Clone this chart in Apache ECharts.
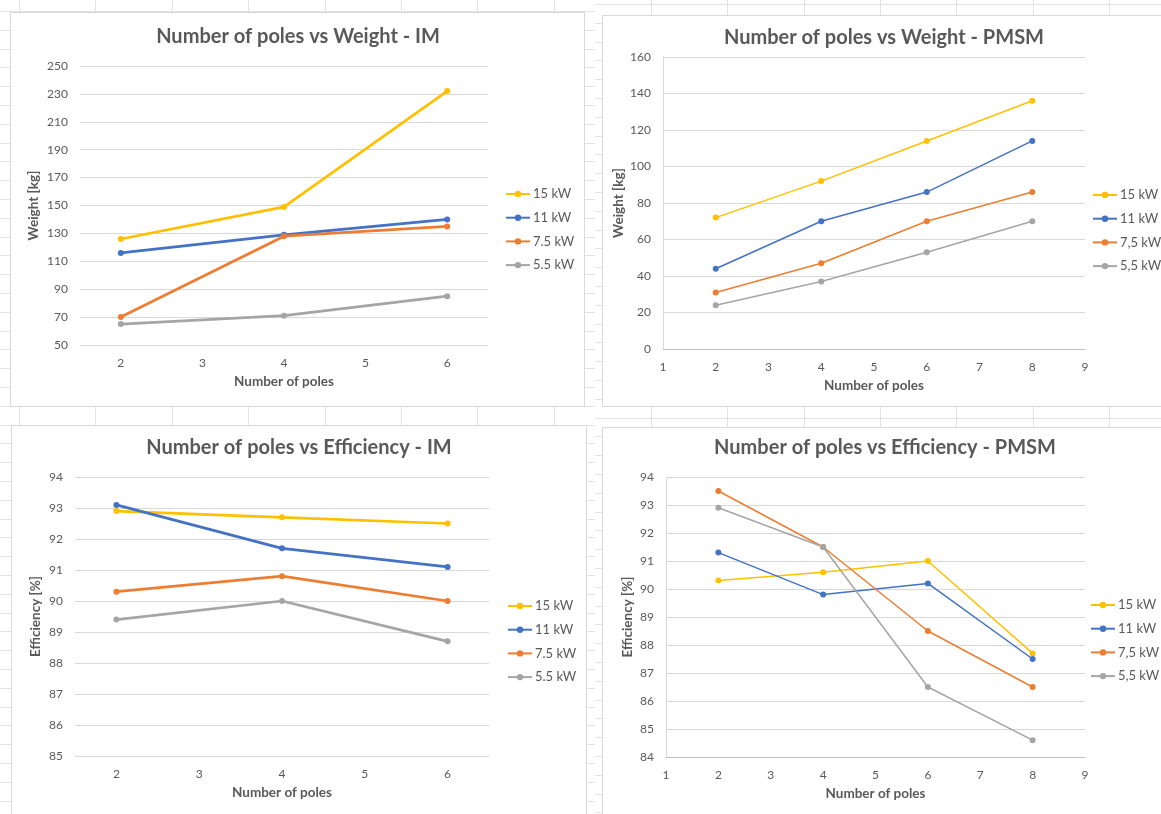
<!DOCTYPE html>
<html>
<head>
<meta charset="utf-8">
<script src="https://cdn.jsdelivr.net/npm/echarts@6/dist/echarts.min.js"></script>
<style>
  html, body { margin: 0; padding: 0; width: 1161px; height: 814px; overflow: hidden; background: #fff; }
  /* worksheet cell lines behind the charts */
  .sheet { position: absolute; top: 0; height: 814px; }
  #sheetL { left: 0; width: 595px;
    background-image:
      repeating-linear-gradient(to right, transparent 0, transparent 19px, #e2e2e2 19px, #e2e2e2 20px, transparent 20px, transparent 76.4px),
      repeating-linear-gradient(to bottom, transparent 0, transparent 11px, #e2e2e2 11px, #e2e2e2 12px, transparent 12px, transparent 18.8px);
  }
  #sheetR { left: 595px; width: 566px;
    background-image:
      repeating-linear-gradient(to right, transparent 0, transparent 56px, #e2e2e2 56px, #e2e2e2 57px, transparent 57px, transparent 76.3px),
      repeating-linear-gradient(to bottom, transparent 0, transparent 4px, #e2e2e2 4px, #e2e2e2 5px, transparent 5px, transparent 18.8px);
  }
  .box { position: absolute; background: #fff; border: 1px solid #d9d9d9; box-sizing: border-box; }
  #chart { position: absolute; left: 0; top: 0; width: 1161px; height: 814px; }
</style>
</head>
<body>
<div class="sheet" id="sheetL"></div>
<div class="sheet" id="sheetR"></div>
<div class="box" style="left:10px;top:12px;width:575px;height:395px;"></div>
<div class="box" style="left:602px;top:15px;width:580px;height:392px;"></div>
<div class="box" style="left:11px;top:425px;width:576px;height:400px;"></div>
<div class="box" style="left:602px;top:427px;width:580px;height:400px;"></div>
<div id="chart"></div>
<script>
// ---- data ----
const imPoleCategories = ['2', '3', '4', '5', '6'];
const imPoles = ['2', '4', '6'];
const pmsmPoles = [2, 4, 6, 8];

const imSeriesNames = ['15 kW', '11 kW', '7.5 kW', '5.5 kW'];
const pmsmSeriesNames = ['15 kW', '11 kW', '7,5 kW', '5,5 kW'];

// Weight [kg], induction motor
const imWeight15 = [126, 149, 232];
const imWeight11 = [116, 129, 140];
const imWeight75 = [70, 128, 135];
const imWeight55 = [65, 71, 85];

// Weight [kg], PMSM
const pmsmWeight15 = [72, 92, 114, 136];
const pmsmWeight11 = [44, 70, 86, 114];
const pmsmWeight75 = [31, 47, 70, 86];
const pmsmWeight55 = [24, 37, 53, 70];

// Efficiency [%], induction motor
const imEff15 = [92.9, 92.7, 92.5];
const imEff11 = [93.1, 91.7, 91.1];
const imEff75 = [90.3, 90.8, 90.0];
const imEff55 = [89.4, 90.0, 88.7];

// Efficiency [%], PMSM
const pmsmEff15 = [90.3, 90.6, 91.0, 87.7];
const pmsmEff11 = [91.3, 89.8, 90.2, 87.5];
const pmsmEff75 = [93.5, 91.5, 88.5, 86.5];
const pmsmEff55 = [92.9, 91.5, 86.5, 84.6];

const colors = ['#FFC000', '#4472C4', '#ED7D31', '#A5A5A5'];
const FONT = 'Lato, "Open Sans", sans-serif';
const TXT = '#595959';
const GRIDC = '#d9d9d9';

function pairs(xs, ys) { return xs.map((x, i) => [x, ys[i]]); }

function makeSeries(names, xs, arrays, gridIndex, width, symbolSize) {
  return arrays.map((ys, i) => ({
    name: names[i],
    type: 'line',
    xAxisIndex: gridIndex,
    yAxisIndex: gridIndex,
    data: pairs(xs, ys),
    symbol: 'circle',
    symbolSize: symbolSize,
    itemStyle: { color: colors[i] },
    lineStyle: { color: colors[i], width: width },
    emphasis: { disabled: true },
    animation: false
  }));
}

const axisLabel = { color: TXT, fontFamily: FONT, fontSize: 12 };
const nameStyle = { color: TXT, fontFamily: FONT, fontSize: 13.5, fontWeight: 'bold' };

function catX(gridIndex) {
  return {
    gridIndex, type: 'category', data: imPoleCategories, boundaryGap: true,
    axisLine: { show: true, lineStyle: { color: GRIDC } }, axisTick: { show: false },
    axisLabel: Object.assign({ margin: 12 }, axisLabel),
    name: 'Number of poles', nameLocation: 'middle', nameGap: 30, nameTextStyle: nameStyle
  };
}
function valX(gridIndex) {
  return {
    gridIndex, type: 'value', min: 1, max: 9, interval: 1,
    axisLine: { show: true, lineStyle: { color: '#bfbfbf' } }, axisTick: { show: false },
    splitLine: { show: false },
    axisLabel: Object.assign({ margin: 12 }, axisLabel),
    name: 'Number of poles', nameLocation: 'middle', nameGap: 30, nameTextStyle: nameStyle
  };
}
function valY(gridIndex, min, max, interval, name, gap, showLine) {
  return {
    gridIndex, type: 'value', min, max, interval,
    axisLine: { show: showLine, lineStyle: { color: GRIDC } }, axisTick: { show: false },
    splitLine: { lineStyle: { color: GRIDC } },
    axisLabel: Object.assign({ margin: 12 }, axisLabel),
    name, nameLocation: 'middle', nameGap: gap, nameTextStyle: nameStyle
  };
}
function legend(names, left, top) {
  return {
    data: names, orient: 'vertical', left, top,
    itemWidth: 24, itemHeight: 8, itemGap: 9.7,
    textStyle: { color: TXT, fontFamily: FONT, fontSize: 13, lineHeight: 14, padding: [0, 0, 0, -2] },
    selectedMode: false
  };
}
function title(text, x, y) {
  return {
    text, left: x, top: y, textAlign: 'center',
    textStyle: { color: TXT, fontFamily: FONT, fontSize: 20, fontWeight: 'bold' }
  };
}

const option = {
  animation: false,
  backgroundColor: 'transparent',
  title: [
    title('Number of poles vs Weight - IM', 293, 22),
    title('Number of poles vs Weight - PMSM', 879, 23),
    title('Number of poles vs Efficiency - IM', 294, 433),
    title('Number of poles vs Efficiency - PMSM', 880, 433)
  ],
  legend: [
    legend(imSeriesNames, 500, 182),
    legend(pmsmSeriesNames, 1087, 183),
    legend(imSeriesNames, 502, 594),
    legend(pmsmSeriesNames, 1085, 593)
  ],
  grid: [
    { left: 80, top: 66, width: 408, height: 279 },
    { left: 663, top: 57, width: 422, height: 292 },
    { left: 75, top: 477, width: 414, height: 279 },
    { left: 666, top: 477, width: 419, height: 280 }
  ],
  xAxis: [catX(0), valX(1), catX(2), valX(3)],
  yAxis: [
    valY(0, 50, 250, 20, 'Weight [kg]', 39, false),
    valY(1, 0, 160, 20, 'Weight [kg]', 37, true),
    valY(2, 85, 94, 1, 'Efficiency [%]', 32, false),
    valY(3, 84, 94, 1, 'Efficiency [%]', 31, true)
  ],
  series: [].concat(
    makeSeries(imSeriesNames, imPoles, [imWeight15, imWeight11, imWeight75, imWeight55], 0, 2.75, 6),
    makeSeries(pmsmSeriesNames, pmsmPoles, [pmsmWeight15, pmsmWeight11, pmsmWeight75, pmsmWeight55], 1, 1.5, 6),
    makeSeries(imSeriesNames, imPoles, [imEff15, imEff11, imEff75, imEff55], 2, 2.75, 6),
    makeSeries(pmsmSeriesNames, pmsmPoles, [pmsmEff15, pmsmEff11, pmsmEff75, pmsmEff55], 3, 1.5, 6)
  )
};

const chart = echarts.init(document.getElementById('chart'), null, { renderer: 'canvas' });
chart.setOption(option);
</script>
</body>
</html>
